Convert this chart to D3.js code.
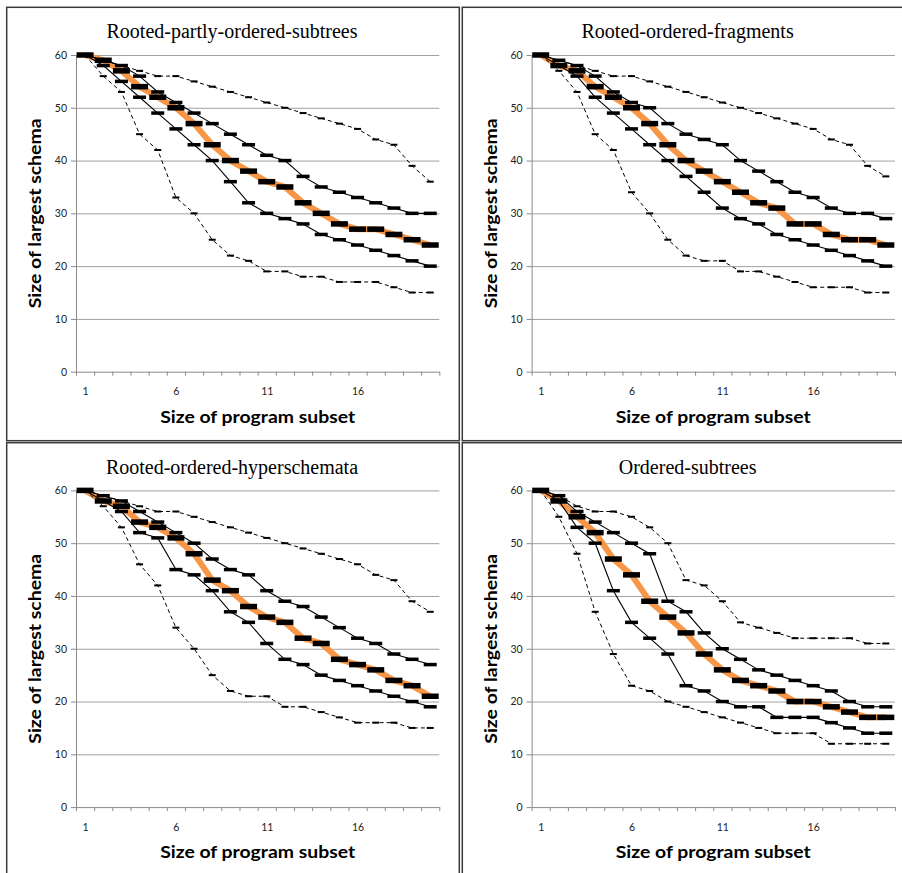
<!DOCTYPE html>
<html>
<head>
<meta charset="utf-8">
<script src="https://cdn.jsdelivr.net/npm/d3@7"></script>
<style>
    html, body { margin: 0; padding: 0; background: #fff; }
    svg { display: block; }
</style>
</head>
<body>
<div id="chart"></div>
<script>
// Categories and ticks
const subsetSizes = [1, 2, 3, 4, 5, 6, 7, 8, 9, 10, 11, 12, 13, 14, 15, 16, 17, 18, 19, 20];
const xTickLabels = [1, 6, 11, 16];
const yTickValues = [0, 10, 20, 30, 40, 50, 60];
const panelTitles = [
    "Rooted-partly-ordered-subtrees",
    "Rooted-ordered-fragments",
    "Rooted-ordered-hyperschemata",
    "Ordered-subtrees"
];

// Rooted-partly-ordered-subtrees
const partlyMax    = [60, 59, 58, 57, 56, 56, 55, 54, 53, 52, 51, 50, 49, 48, 47, 46, 44, 43, 39, 36];
const partlyUpper  = [60, 59, 58, 56, 53, 51, 49, 47, 45, 43, 41, 40, 37, 35, 34, 33, 32, 31, 30, 30];
const partlyMedian = [60, 59, 57, 54, 52, 50, 47, 43, 40, 38, 36, 35, 32, 30, 28, 27, 27, 26, 25, 24];
const partlyLower  = [60, 58, 55, 52, 49, 46, 43, 40, 36, 32, 30, 29, 28, 26, 25, 24, 23, 22, 21, 20];
const partlyMin    = [60, 56, 53, 45, 42, 33, 30, 25, 22, 21, 19, 19, 18, 18, 17, 17, 17, 16, 15, 15];

// Rooted-ordered-fragments
const fragMax    = [60, 59, 58, 57, 56, 56, 55, 54, 53, 52, 51, 50, 49, 48, 47, 46, 44, 43, 39, 37];
const fragUpper  = [60, 59, 58, 56, 53, 51, 50, 47, 45, 44, 43, 40, 38, 36, 34, 33, 31, 30, 30, 29];
const fragMedian = [60, 58, 57, 54, 52, 50, 47, 43, 40, 38, 36, 34, 32, 31, 28, 28, 26, 25, 25, 24];
const fragLower  = [60, 58, 56, 52, 49, 46, 43, 40, 37, 34, 31, 29, 28, 26, 25, 24, 23, 22, 21, 20];
const fragMin    = [60, 57, 53, 45, 42, 34, 30, 25, 22, 21, 21, 19, 19, 18, 17, 16, 16, 16, 15, 15];

// Rooted-ordered-hyperschemata
const hyperMax    = [60, 59, 58, 57, 56, 56, 55, 54, 53, 52, 51, 50, 49, 48, 47, 46, 44, 43, 39, 37];
const hyperUpper  = [60, 59, 58, 56, 54, 52, 50, 47, 45, 44, 41, 39, 38, 36, 34, 32, 31, 29, 28, 27];
const hyperMedian = [60, 58, 57, 54, 53, 51, 48, 43, 41, 38, 36, 35, 32, 31, 28, 27, 26, 24, 23, 21];
const hyperLower  = [60, 58, 56, 52, 51, 45, 44, 41, 37, 35, 31, 28, 27, 25, 24, 23, 22, 21, 20, 19];
const hyperMin    = [60, 57, 53, 46, 42, 34, 30, 25, 22, 21, 21, 19, 19, 18, 17, 16, 16, 16, 15, 15];

// Ordered-subtrees
const orderedMax    = [60, 59, 57, 56, 56, 55, 53, 50, 43, 42, 39, 35, 34, 33, 32, 32, 32, 32, 31, 31];
const orderedUpper  = [60, 59, 56, 54, 52, 50, 48, 39, 37, 33, 30, 28, 26, 25, 24, 23, 22, 20, 19, 19];
const orderedMedian = [60, 58, 55, 52, 47, 44, 39, 36, 33, 29, 26, 24, 23, 22, 20, 20, 19, 18, 17, 17];
const orderedLower  = [60, 58, 53, 50, 41, 35, 32, 29, 23, 22, 20, 19, 19, 17, 17, 17, 16, 15, 14, 14];
const orderedMin    = [60, 55, 48, 37, 29, 23, 22, 20, 19, 18, 17, 16, 15, 14, 14, 14, 12, 12, 12, 12];

const panels = [
    { title: panelTitles[0], dx: 0,     dy: 0,     series: [partlyMax, partlyUpper, partlyMedian, partlyLower, partlyMin] },
    { title: panelTitles[1], dx: 455.6, dy: 0,     series: [fragMax, fragUpper, fragMedian, fragLower, fragMin] },
    { title: panelTitles[2], dx: 0,     dy: 435.4, series: [hyperMax, hyperUpper, hyperMedian, hyperLower, hyperMin] },
    { title: panelTitles[3], dx: 455.6, dy: 435.4, series: [orderedMax, orderedUpper, orderedMedian, orderedLower, orderedMin] }
];

// line / marker style per series position: max, upper, median, lower, min
const seriesStyles = [
    { kind: "dashed" },
    { kind: "solid" },
    { kind: "median" },
    { kind: "solid" },
    { kind: "dashed" }
];

const sansFont = "Lato, 'Open Sans', sans-serif";

class SchemaPanel {
    constructor(svg, panel) {
        this.svg = svg;
        this.panel = panel;
        this.g = svg.append("g").attr("transform", `translate(${panel.dx},${panel.dy})`);

        this.left = 76;
        this.right = 439.3;
        this.top = 55;
        this.bottom = 371.7;

        this.x = d3.scaleLinear().domain([0.5, 20.5]).range([this.left, this.right]);
        this.y = d3.scaleLinear().domain([0, 60]).range([this.bottom, this.top]);
    }

    /**
     * Draw the whole panel
     */
    render() {
        this.drawFrame();
        this.drawGrid();
        this.drawAxes();
        this.drawSeries();
        this.drawTitles();
    }

    drawFrame() {
        this.g.append("rect")
            .attr("x", 6.7)
            .attr("y", 7.3)
            .attr("width", 452.6)
            .attr("height", 433.4)
            .attr("fill", "none")
            .attr("stroke", "#3a3a3a")
            .attr("stroke-width", 1.5);
    }

    drawGrid() {
        const grid = this.g.append("g")
            .attr("transform", `translate(${this.left},0)`)
            .call(d3.axisLeft(this.y)
                .tickValues(yTickValues.filter(v => v > 0))
                .tickSize(-(this.right - this.left))
                .tickFormat(""));
        grid.select(".domain").remove();
        grid.selectAll("line").attr("stroke", "#a0a0a0").attr("stroke-width", 1);
    }

    drawAxes() {
        // y axis with labels
        const yAxis = this.g.append("g")
            .attr("transform", `translate(${this.left},0)`)
            .call(d3.axisLeft(this.y)
                .tickValues(yTickValues)
                .tickSize(5)
                .tickPadding(4)
                .tickSizeOuter(0));
        yAxis.select(".domain").attr("stroke", "#8a8a8a");
        yAxis.selectAll("line").attr("stroke", "#8a8a8a");
        yAxis.selectAll("text")
            .attr("fill", "#222")
            .style("font-family", sansFont)
            .style("font-size", "10.5px");

        // x axis: ticks between categories
        const boundaries = [0].concat(subsetSizes).map(d => d + 0.5);
        const xTicks = this.g.append("g")
            .attr("transform", `translate(0,${this.bottom})`)
            .call(d3.axisBottom(this.x)
                .tickValues(boundaries)
                .tickSize(4)
                .tickSizeOuter(0)
                .tickFormat(""));
        xTicks.select(".domain").attr("stroke", "#8a8a8a");
        xTicks.selectAll("line").attr("stroke", "#8a8a8a");

        // x labels at category centres
        const xLabels = this.g.append("g")
            .attr("transform", `translate(0,${this.bottom})`)
            .call(d3.axisBottom(this.x)
                .tickValues(xTickLabels)
                .tickSize(0)
                .tickPadding(16)
                .tickFormat(d3.format("d")));
        xLabels.select(".domain").remove();
        xLabels.selectAll("text")
            .attr("fill", "#222")
            .style("font-family", sansFont)
            .style("font-size", "10.5px");
    }

    drawSeries() {
        const self = this;
        const line = d3.line()
            .x((d, i) => self.x(subsetSizes[i]))
            .y(d => self.y(d));

        const order = [2, 0, 4, 1, 3]; // orange first, black lines over it
        order.forEach(k => {
            const style = seriesStyles[k];
            const path = this.g.append("path")
                .datum(this.panel.series[k])
                .attr("d", line)
                .attr("fill", "none");
            if (style.kind === "median") {
                path.attr("stroke", "#f79646").attr("stroke-width", 6).attr("stroke-linejoin", "round");
            } else if (style.kind === "solid") {
                path.attr("stroke", "#000").attr("stroke-width", 1.1);
            } else {
                path.attr("stroke", "#000").attr("stroke-width", 1).attr("stroke-dasharray", "4,3");
            }
        });

        // dash markers
        const markerSize = {
            dashed: [7, 2],
            solid: [13, 3.5],
            median: [17, 5.5]
        };
        [0, 4, 1, 3, 2].forEach(k => {
            const [w, h] = markerSize[seriesStyles[k].kind];
            this.g.append("g")
                .selectAll("rect")
                .data(this.panel.series[k])
                .join("rect")
                .attr("x", (d, i) => self.x(subsetSizes[i]) - w / 2)
                .attr("y", d => self.y(d) - h / 2)
                .attr("width", w)
                .attr("height", h)
                .attr("fill", "#000");
        });
    }

    drawTitles() {
        this.g.append("text")
            .attr("x", 232)
            .attr("y", 38.3)
            .attr("text-anchor", "middle")
            .style("font-family", "'Liberation Serif', 'Times New Roman', serif")
            .style("font-size", "20px")
            .attr("fill", "#000")
            .text(this.panel.title);

        this.g.append("text")
            .attr("x", (this.left + this.right) / 2)
            .attr("y", 423)
            .attr("text-anchor", "middle")
            .attr("textLength", 195)
            .attr("lengthAdjust", "spacingAndGlyphs")
            .style("font-family", sansFont)
            .style("font-weight", "bold")
            .style("font-size", "17.5px")
            .attr("fill", "#000")
            .text("Size of program subset");

        this.g.append("text")
            .attr("transform", `translate(41,${(this.top + this.bottom) / 2}) rotate(-90)`)
            .attr("text-anchor", "middle")
            .attr("textLength", 190)
            .attr("lengthAdjust", "spacingAndGlyphs")
            .style("font-family", sansFont)
            .style("font-weight", "bold")
            .style("font-size", "17.5px")
            .attr("fill", "#000")
            .text("Size of largest schema");
    }
}

const svg = d3.select("#chart")
    .append("svg")
    .attr("width", 902)
    .attr("height", 873);

panels.forEach(p => new SchemaPanel(svg, p).render());
</script>
</body>
</html>
